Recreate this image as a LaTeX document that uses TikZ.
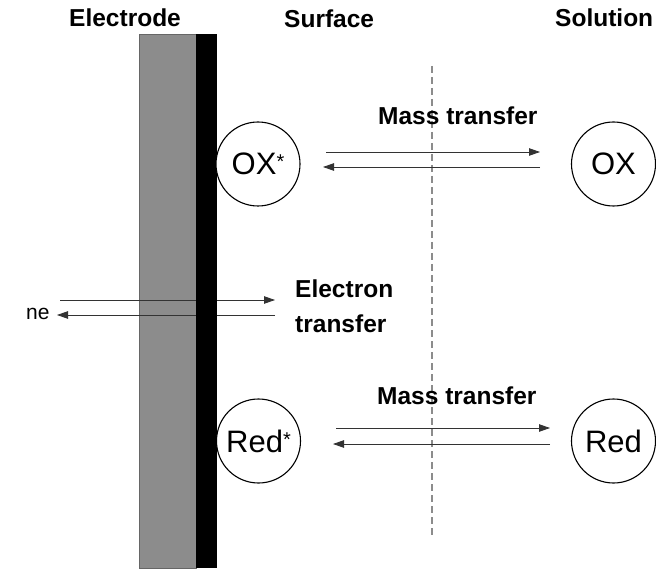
\documentclass[tikz,border=0pt]{standalone}
\usepackage{fontspec}
\setmainfont{Liberation Sans}
\usetikzlibrary{arrows.meta}
\begin{document}
\begin{tikzpicture}[x=1pt,y=-1pt,
  hdr/.style={font=\fontsize{24.5}{26}\selectfont\bfseries, inner sep=0pt, anchor=base west},
  lbl/.style={font=\fontsize{24.5}{26}\selectfont\bfseries, inner sep=0pt, anchor=base west},
  species/.style={circle, draw=black, line width=1.1pt, fill=white, minimum size=84pt, inner sep=0pt, font=\fontsize{31}{33}\selectfont},
  flow/.style={draw=black!80, line width=0.8pt, -{Triangle[length=11pt,width=7.5pt]}}]
\useasboundingbox (0,0) rectangle (656,572);
% electrode
\node[draw=black!60, fill=black!45, line width=0.8pt, inner sep=0pt, minimum width=57pt, minimum height=534pt, anchor=north west] (gray) at (139,34) {};
% electron transfer arrows (pass under the surface layer)
\coordinate (e1s) at (60,300); \coordinate (e1e) at (275,300);
\coordinate (e2s) at (275,315); \coordinate (e2e) at (57,315);
\draw[flow] (e1s) -- (e1e);
\draw[flow] (e2s) -- (e2e);
\node[fill=black, inner sep=0pt, minimum width=21pt, minimum height=534pt, anchor=north west] (surf) at (196,34) {};
% dashed boundary
\coordinate (dtop) at (432,66);
\coordinate (dbot) at (432,537);
\draw[black!45, line width=1.1pt, dash pattern=on 7pt off 4pt] (dtop) -- (dbot);
% headers
\node[hdr] (hE) at (69,27) {Electrode};
\node[hdr] (hS) at (284,28) {Surface};
\node[hdr] (hSol) at (555,27) {Solution};
% species
\node[species] (oxs) at (258,164) {OX\raisebox{6pt}{\fontsize{20}{20}\selectfont *}};
\node[species] (ox) at (613.5,164) {OX};
\node[species] (reds) at (258.5,441) {Red\raisebox{6pt}{\fontsize{20}{20}\selectfont *}};
\node[species] (red) at (613.5,441) {Red};
% mass transfer top
\node[lbl] (mt1) at (378,125) {Mass transfer};
\coordinate (a1s) at (326,152); \coordinate (a1e) at (540,152);
\coordinate (a2s) at (540,167); \coordinate (a2e) at (323,167);
\draw[flow] (a1s) -- (a1e);
\draw[flow] (a2s) -- (a2e);
% electron transfer labels
\node[lbl] (et1) at (295,298) {Electron};
\node[lbl] (et2) at (295,332) {transfer};
\node[font=\fontsize{21}{22}\selectfont, inner sep=0pt, anchor=base west] (ne) at (26,319) {ne};
% mass transfer bottom
\node[lbl] (mt2) at (377,404) {Mass transfer};
\coordinate (b1s) at (336,428); \coordinate (b1e) at (550,428);
\coordinate (b2s) at (550,444); \coordinate (b2e) at (333,444);
\draw[flow] (b1s) -- (b1e);
\draw[flow] (b2s) -- (b2e);
\end{tikzpicture}
\end{document}
